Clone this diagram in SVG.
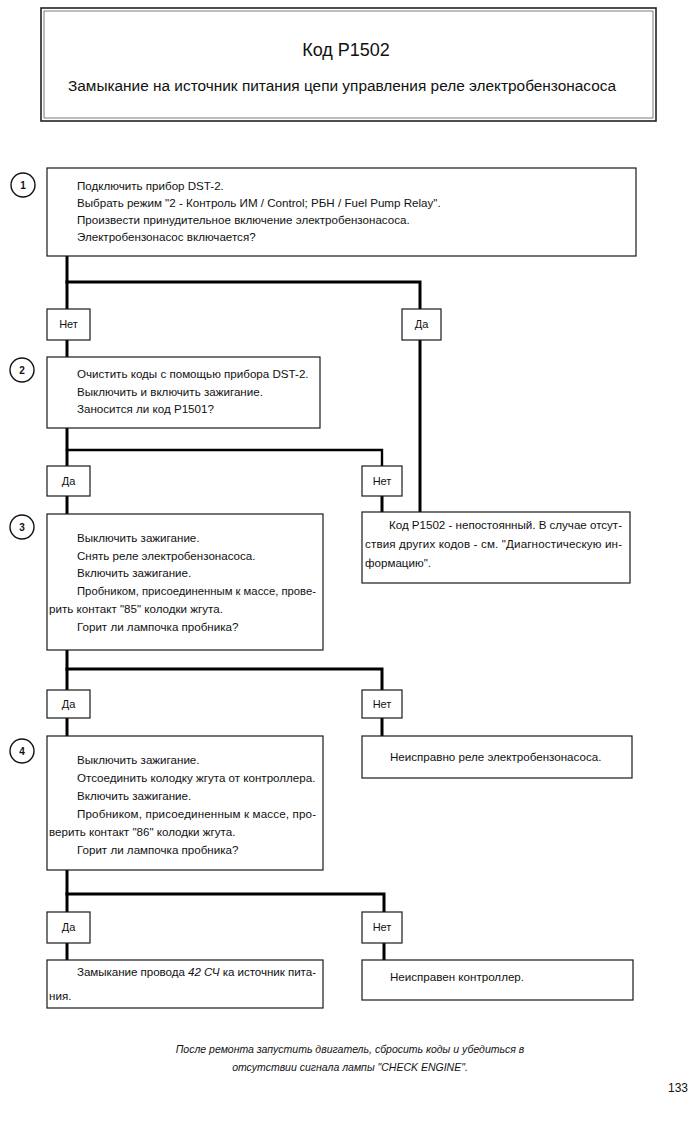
<svg xmlns="http://www.w3.org/2000/svg" width="697" height="1122" viewBox="0 0 697 1122">
<style>
.bg{fill:#fff}
.box{fill:#fff;stroke:#1a1a1a;stroke-width:1.2}
.lbl{fill:#fff;stroke:#1a1a1a;stroke-width:1.2}
.circ{fill:#fff;stroke:#111;stroke-width:1.4}
.conn{fill:none;stroke:#000;stroke-width:3;stroke-linecap:square}
.t{font-family:"Liberation Sans",Arial,sans-serif;font-size:11.6px;fill:#111}
.lt{font-family:"Liberation Sans",Arial,sans-serif;font-size:11px;fill:#111;text-anchor:middle}
.num{font-family:"Liberation Sans",Arial,sans-serif;font-size:10px;font-weight:bold;fill:#111;text-anchor:middle}
.h1{font-family:"Liberation Sans",Arial,sans-serif;font-size:18px;fill:#111;text-anchor:middle}
.h2{font-family:"Liberation Sans",Arial,sans-serif;font-size:15.4px;fill:#111;text-anchor:middle}
.ft{font-family:"Liberation Sans",Arial,sans-serif;font-size:10.5px;font-style:italic;fill:#111;text-anchor:middle}
</style>
<rect class="bg" x="0" y="0" width="697" height="1122"/>

<g id="header">
<rect x="41" y="8" width="615" height="113" fill="#fff" stroke="#222" stroke-width="1.6"/>
<rect x="44" y="11" width="609" height="107" fill="none" stroke="#444" stroke-width="0.7"/>
<text class="h1" x="346" y="56">Код P1502</text>
<text class="h2" x="342" y="91">Замыкание на источник питания цепи управления реле электробензонасоса</text>
</g>

<g id="connectors">
<polyline class="conn" points="67,256 67,309"/>
<polyline class="conn" points="67,282 420,282 420,309"/>
<polyline class="conn" points="67,340 67,357"/>
<polyline class="conn" points="420,340 420,512"/>
<polyline class="conn" points="67,428 67,466"/>
<polyline class="conn" points="67,450 382,450 382,466" style="stroke-width:2.4"/>
<polyline class="conn" points="67,496 67,514"/>
<polyline class="conn" points="382,496 382,512"/>
<polyline class="conn" points="67,650 67,690"/>
<polyline class="conn" points="67,669 382,669 382,690"/>
<polyline class="conn" points="67,718 67,736"/>
<polyline class="conn" points="382,718 382,736"/>
<polyline class="conn" points="67,870 67,912"/>
<polyline class="conn" points="67,894 384,894 384,912"/>
<polyline class="conn" points="67,943 67,960"/>
<polyline class="conn" points="384,943 384,960"/>
</g>

<g id="step1">
<circle class="circ" cx="23" cy="185" r="12"/>
<text class="num" x="23" y="189">1</text>
<rect class="box" x="47" y="168" width="589" height="88"/>
<text class="t" x="77" y="190">Подключить прибор DST-2.</text>
<text class="t" x="77" y="207">Выбрать режим "2 -  Контроль ИМ / Control; РБН / Fuel Pump Relay".</text>
<text class="t" x="77" y="224">Произвести принудительное включение электробензонасоса.</text>
<text class="t" x="77" y="241">Электробензонасос включается?</text>
</g>

<g id="label1-no">
<rect class="lbl" x="47" y="309" width="43" height="31"/>
<text class="lt" x="68.5" y="328">Нет</text>
</g>
<g id="label1-yes">
<rect class="lbl" x="402" y="309" width="39" height="31"/>
<text class="lt" x="421.5" y="328">Да</text>
</g>

<g id="step2">
<circle class="circ" cx="22" cy="370" r="12"/>
<text class="num" x="22" y="374">2</text>
<rect class="box" x="47" y="357" width="273" height="71"/>
<text class="t" x="77" y="378">Очистить коды с помощью прибора DST-2.</text>
<text class="t" x="77" y="396">Выключить и включить зажигание.</text>
<text class="t" x="77" y="413">Заносится ли код P1501?</text>
</g>

<g id="label2-yes">
<rect class="lbl" x="47" y="466" width="43" height="30"/>
<text class="lt" x="68.5" y="485">Да</text>
</g>
<g id="label2-no">
<rect class="lbl" x="362" y="466" width="40" height="30"/>
<text class="lt" x="382" y="485">Нет</text>
</g>

<g id="result-intermittent">
<rect class="box" x="362" y="512" width="268" height="71"/>
<text class="t" x="389" y="529" textLength="233" lengthAdjust="spacing">Код P1502 - непостоянный. В случае отсут-</text>
<text class="t" x="365" y="548" textLength="257" lengthAdjust="spacing">ствия других кодов - см. "Диагностическую ин-</text>
<text class="t" x="365" y="567">формацию".</text>
</g>

<g id="step3">
<circle class="circ" cx="22" cy="527" r="12"/>
<text class="num" x="22" y="531">3</text>
<rect class="box" x="47" y="514" width="276" height="136"/>
<text class="t" x="77" y="542">Выключить зажигание.</text>
<text class="t" x="77" y="560">Снять реле электробензонасоса.</text>
<text class="t" x="77" y="577">Включить зажигание.</text>
<text class="t" x="77" y="595" textLength="239" lengthAdjust="spacingAndGlyphs">Пробником, присоединенным к массе, прове-</text>
<text class="t" x="49" y="613">рить контакт "85" колодки жгута.</text>
<text class="t" x="77" y="631">Горит ли лампочка пробника?</text>
</g>

<g id="label3-yes">
<rect class="lbl" x="47" y="690" width="43" height="28"/>
<text class="lt" x="68.5" y="708">Да</text>
</g>
<g id="label3-no">
<rect class="lbl" x="362" y="690" width="40" height="28"/>
<text class="lt" x="382" y="708">Нет</text>
</g>

<g id="result-relay">
<rect class="box" x="362" y="736" width="270" height="42"/>
<text class="t" x="390" y="761">Неисправно реле электробензонасоса.</text>
</g>

<g id="step4">
<circle class="circ" cx="22" cy="751" r="12"/>
<text class="num" x="22" y="755">4</text>
<rect class="box" x="47" y="736" width="276" height="134"/>
<text class="t" x="77" y="764">Выключить зажигание.</text>
<text class="t" x="77" y="782">Отсоединить колодку жгута от контроллера.</text>
<text class="t" x="77" y="800">Включить зажигание.</text>
<text class="t" x="77" y="818" textLength="239" lengthAdjust="spacing">Пробником, присоединенным к массе, про-</text>
<text class="t" x="49" y="836">верить контакт "86" колодки жгута.</text>
<text class="t" x="77" y="854">Горит ли лампочка пробника?</text>
</g>

<g id="label4-yes">
<rect class="lbl" x="47" y="912" width="43" height="31"/>
<text class="lt" x="68.5" y="931">Да</text>
</g>
<g id="label4-no">
<rect class="lbl" x="362" y="912" width="40" height="31"/>
<text class="lt" x="382" y="931">Нет</text>
</g>

<g id="result-short">
<rect class="box" x="47" y="960" width="276" height="48"/>
<text class="t" x="77" y="976" textLength="239" lengthAdjust="spacing">Замыкание провода <tspan font-style="italic">42 СЧ</tspan> ка источник пита-</text>
<text class="t" x="49" y="1000">ния.</text>
</g>

<g id="result-controller">
<rect class="box" x="362" y="960" width="271" height="40"/>
<text class="t" x="390" y="981">Неисправен контроллер.</text>
</g>

<g id="footer">
<text class="ft" x="350" y="1053">После ремонта запустить двигатель, сбросить коды и убедиться в</text>
<text class="ft" x="350" y="1071">отсутствии сигнала лампы "CHECK ENGINE".</text>
<text class="t" x="688" y="1092" style="font-size:12px;text-anchor:end">133</text>
</g>
</svg>
